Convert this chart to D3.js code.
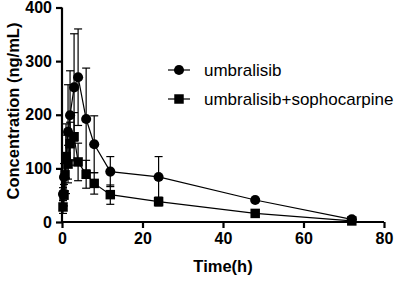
<!DOCTYPE html>
<html><head><meta charset="utf-8">
<script src="https://cdn.jsdelivr.net/npm/d3@7"></script>
<style>body{margin:0;background:#fff}svg{display:block}text{font-family:Arial,"Liberation Sans",sans-serif}</style>
</head><body>
<script>
const timeA = [0.25,0.5,1,1.5,2,3,4,6,8,12,24,48,72];
const concA = [52,84,118,168,199,251,270,192,145,94,84,41,5];
const sdA   = [12,25,65,88,83,100,90,95,53,28,38,3,2];
const timeB = [0.25,0.5,0.75,1,1.5,2,3,4,6,8,12,24,48,72];
const concB = [28,50,88,122,108,146,159,112,89,72,51,38,16,2];
const sdB   = [12,20,30,40,35,40,45,35,26,20,18,8,3,1];
const seriesNames = ["umbralisib","umbralisib+sophocarpine"];
const xTicks = [0,20,40,60,80];
const yTicks = [0,100,200,300,400];

const W=401,H=281;
const svg=d3.select("body").append("svg").attr("width",W).attr("height",H);
const x=d3.scaleLinear().domain([0,80]).range([62,384]);
const y=d3.scaleLinear().domain([0,400]).range([222,7.5]);

const gx=svg.append("g").attr("transform","translate(0,222)")
  .call(d3.axisBottom(x).tickValues(xTicks).tickSize(6).tickPadding(5));
const gy=svg.append("g").attr("transform","translate(62,0)")
  .call(d3.axisLeft(y).tickValues(yTicks).tickSize(6).tickPadding(4));
[gx,gy].forEach(g=>{
  g.selectAll("path").attr("stroke","#000").attr("stroke-width",2.2);
  g.selectAll("line").attr("stroke","#000").attr("stroke-width",2.2);
  g.selectAll("text").attr("fill","#000")
   .style("font-family","Arial, 'Liberation Sans', sans-serif").style("font-size","16px").style("font-weight","bold");
});
gx.select(".domain").attr("d","M62,0H384");
gy.select(".domain").attr("d","M0,222V7.5");

svg.append("text").attr("x",223).attr("y",272).attr("text-anchor","middle")
  .style("font-size","16.5px").style("font-weight","bold").text("Time(h)");
svg.append("text").attr("transform","translate(19,111) rotate(-90)").attr("text-anchor","middle")
  .style("font-size","16.5px").style("font-weight","bold").text("Concentration (ng/mL)");

function drawSeries(times,conc,sd,shape){
  const data=times.map((t,i)=>({t,c:conc[i],s:sd[i]}));
  const g=svg.append("g");
  g.append("path").datum(data).attr("fill","none").attr("stroke","#000").attr("stroke-width",1.2)
    .attr("d",d3.line().x(d=>x(d.t)).y(d=>y(d.c)));
  const eb=g.selectAll(".eb").data(data).enter().append("g");
  eb.append("line").attr("x1",d=>x(d.t)).attr("x2",d=>x(d.t))
    .attr("y1",d=>y(d.c+d.s)).attr("y2",d=>y(Math.max(0,d.c-d.s))).attr("stroke","#000").attr("stroke-width",1.2);
  eb.append("line").attr("x1",d=>x(d.t)-4).attr("x2",d=>x(d.t)+4)
    .attr("y1",d=>y(d.c+d.s)).attr("y2",d=>y(d.c+d.s)).attr("stroke","#000").attr("stroke-width",1.2);
  eb.append("line").attr("x1",d=>x(d.t)-4).attr("x2",d=>x(d.t)+4)
    .attr("y1",d=>y(Math.max(0,d.c-d.s))).attr("y2",d=>y(Math.max(0,d.c-d.s))).attr("stroke","#000").attr("stroke-width",1.2);
  const sym=d3.symbol().type(shape==="c"?d3.symbolCircle:d3.symbolSquare).size(shape==="c"?80:90);
  g.selectAll(".m").data(data).enter().append("path")
    .attr("transform",d=>`translate(${x(d.t)},${y(d.c)})`).attr("d",sym).attr("fill","#000");
}
drawSeries(timeB,concB,sdB,"s");
drawSeries(timeA,concA,sdA,"c");

const leg=[{n:seriesNames[0],s:"c",yy:70},{n:seriesNames[1],s:"s",yy:99}];
leg.forEach(l=>{
  svg.append("line").attr("x1",168).attr("x2",190).attr("y1",l.yy).attr("y2",l.yy).attr("stroke","#000").attr("stroke-width",1.2);
  svg.append("path").attr("transform",`translate(179,${l.yy})`)
    .attr("d",d3.symbol().type(l.s==="c"?d3.symbolCircle:d3.symbolSquare).size(l.s==="c"?80:90)).attr("fill","#000");
  svg.append("text").attr("x",204).attr("y",l.yy+6).style("font-size","17px").style("font-weight","normal").text(l.n);
});
</script>
</body></html>
